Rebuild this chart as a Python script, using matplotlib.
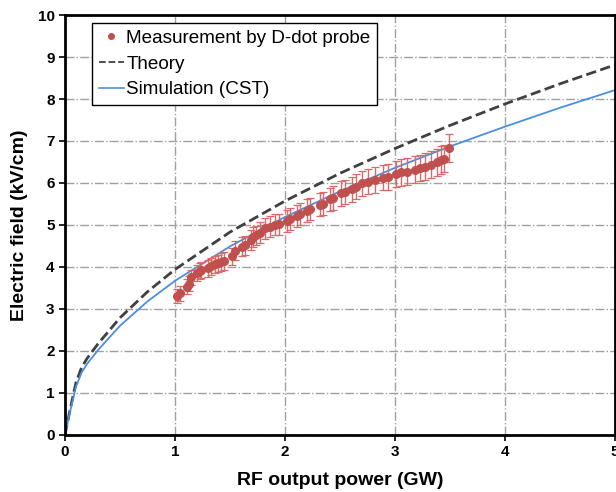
import matplotlib
matplotlib.use("Agg")
import matplotlib.pyplot as plt
from matplotlib.lines import Line2D

plt.rcParams['font.family'] = ['Liberation Sans', 'DejaVu Sans']

# Theory and CST simulation curves
p_curve = [0, 0.05, 0.1, 0.15, 0.2, 0.3, 0.5, 0.75, 1.0, 1.5, 2.0, 2.5, 3.0, 3.5, 4.0, 4.5, 5.0]
e_theory = [0, 0.65, 1.25, 1.60, 1.82, 2.17, 2.79, 3.41, 3.94, 4.83, 5.57, 6.23, 6.82, 7.37, 7.88, 8.36, 8.81]
e_sim = [0, 0.60, 1.15, 1.48, 1.69, 2.02, 2.60, 3.18, 3.67, 4.49, 5.19, 5.80, 6.36, 6.87, 7.34, 7.79, 8.21]

# D-dot probe measurements
p_meas = [1.015, 1.045, 1.106, 1.127, 1.15, 1.20, 1.23, 1.24, 1.30, 1.33, 1.36, 1.39, 1.42, 1.45,
          1.52, 1.55, 1.61, 1.64, 1.69, 1.71, 1.74, 1.77, 1.82, 1.86, 1.91, 1.95, 2.02, 2.05,
          2.11, 2.14, 2.20, 2.23, 2.32, 2.35, 2.41, 2.44, 2.51, 2.55, 2.61, 2.65, 2.70, 2.76,
          2.82, 2.89, 2.94, 3.01, 3.06, 3.11, 3.18, 3.23, 3.27, 3.33, 3.38, 3.42, 3.45, 3.49]
e_meas = [3.32, 3.37, 3.53, 3.60, 3.75, 3.86, 3.91, 3.93, 3.97, 4.02, 4.07, 4.09, 4.12, 4.14,
          4.25, 4.39, 4.48, 4.52, 4.64, 4.71, 4.75, 4.82, 4.92, 4.96, 5.00, 5.02, 5.10, 5.14,
          5.21, 5.26, 5.34, 5.38, 5.48, 5.51, 5.61, 5.65, 5.75, 5.79, 5.85, 5.91, 5.99, 6.03,
          6.07, 6.13, 6.15, 6.21, 6.25, 6.27, 6.32, 6.36, 6.39, 6.44, 6.49, 6.55, 6.58, 6.83]
rel_err = 0.05  # +/- 5 % measurement uncertainty
e_err = [rel_err * e for e in e_meas]

fig = plt.figure(figsize=(6.16, 4.92), dpi=100)
ax = fig.add_axes([0.1055, 0.1159, 0.8925, 0.8536])

ax.errorbar(p_meas, e_meas, yerr=e_err, fmt='o', color='#C0504D', ms=5.5,
            ecolor='#D9696A', elinewidth=1.0, capsize=3, capthick=0.9, zorder=3)
ax.plot(p_curve, e_theory, '--', color='#404040', lw=2.0, zorder=2)
ax.plot(p_curve, e_sim, '-', color='#4A8FDF', lw=1.3, zorder=2)

ax.set_xlim(0, 5)
ax.set_ylim(0, 10)
ax.set_xticks(range(0, 6))
ax.set_yticks(range(0, 11))
ax.grid(True, color='#A0A0A0', linestyle='-.', lw=1.0)
ax.set_axisbelow(True)
for s in ax.spines.values():
    s.set_linewidth(2.0)
ax.tick_params(direction='out', length=4, width=1.2, labelsize=11)
for lbl in ax.get_xticklabels() + ax.get_yticklabels():
    lbl.set_fontweight('bold')

ax.set_xlabel('RF output power (GW)', fontsize=14, fontweight='bold', labelpad=9)
ax.set_ylabel('Electric field (kV/cm)', fontsize=14, fontweight='bold', labelpad=7)

handles = [
    Line2D([], [], marker='o', ls='none', color='#C0504D', ms=4),
    Line2D([], [], ls='--', color='#404040', lw=1.3),
    Line2D([], [], ls='-', color='#4A8FDF', lw=1.2),
]
labels = ['Measurement by D-dot probe', 'Theory', 'Simulation (CST)']
leg = ax.legend(handles, labels, loc='upper left', bbox_to_anchor=(0.05, 0.981), fontsize=13.6,
                handlelength=1.3, handletextpad=0.15, borderpad=0.35, labelspacing=0.45,
                fancybox=False, framealpha=1, edgecolor='black', borderaxespad=0)
leg.get_frame().set_linewidth(1.0)

fig.savefig('out.png', dpi=100)
